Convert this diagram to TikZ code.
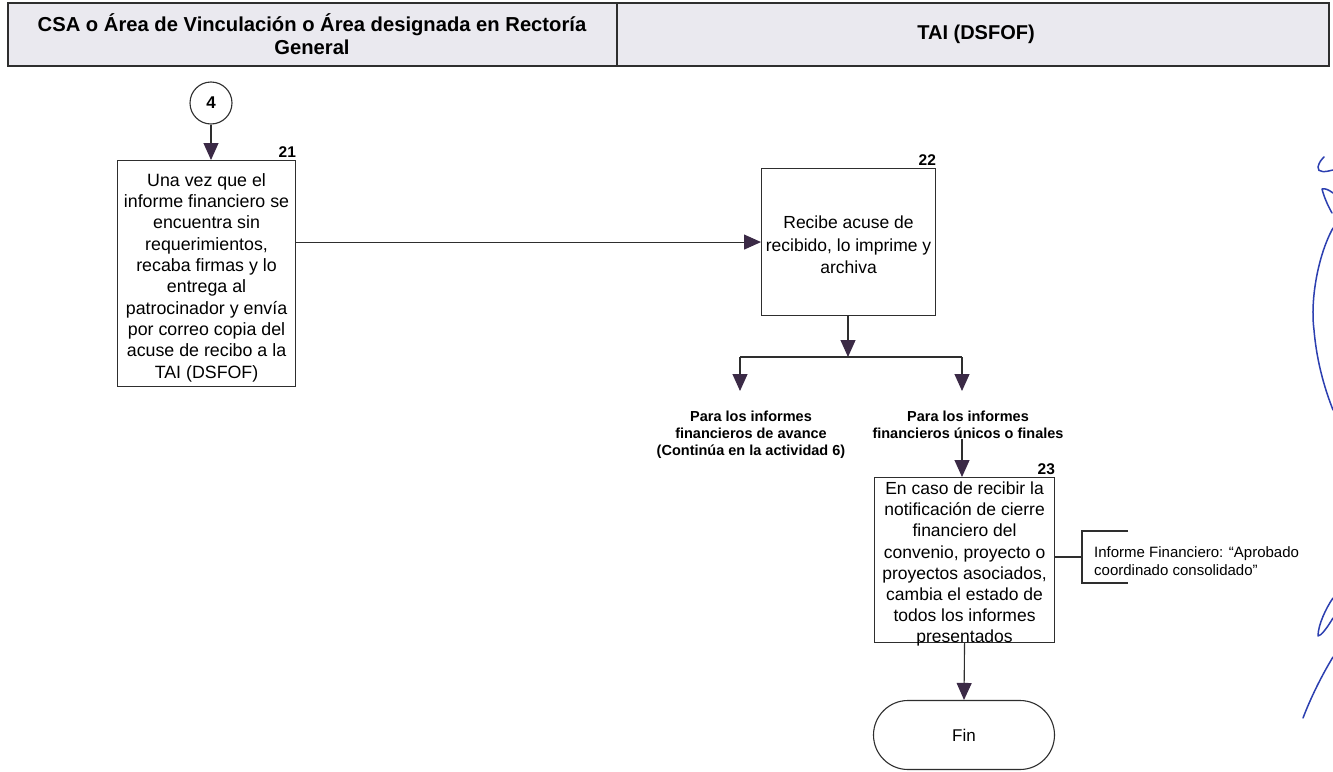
\documentclass[tikz,border=0pt]{standalone}
\usepackage{fontspec}
\setmainfont{Liberation Sans}
\usetikzlibrary{arrows.meta,shapes.misc}

\definecolor{linec}{HTML}{2E2E2E}
\definecolor{tipc}{HTML}{3B2A46}
\definecolor{headfill}{HTML}{EAE9EF}
\definecolor{inkblue}{HTML}{2C3FB0}

\tikzset{
  box/.style={draw=linec, line width=1.1pt, anchor=north west, inner sep=0pt},
  boxtext/.style={align=center, inner sep=0pt, text=black},
  num/.style={anchor=south east, inner sep=0pt, font=\fontsize{15.5}{15.5}\selectfont\bfseries},
  flow/.style={draw=linec, line width=1.1pt,
               -{Triangle[length=17pt,width=15pt,fill=tipc,color=tipc]}},
  plain/.style={draw=linec, line width=1.1pt},
  boldlbl/.style={align=center, inner sep=0pt, font=\fontsize{14.5}{17}\selectfont\bfseries},
  header/.style={draw=linec, line width=1.8pt, fill=headfill},
  ink/.style={draw=inkblue, line width=1.5pt, line cap=round, line join=round}
}

\begin{document}
\begin{tikzpicture}[x=1pt,y=-1pt]
\useasboundingbox (0,0) rectangle (1333,771);
\fill[white] (0,0) rectangle (1333,771);

% lane headers
\path[header] (8,3) rectangle (1329,66);
\draw[linec, line width=1.3pt] (617,3) -- (617,66);
\node[align=center, font=\fontsize{20.2}{22.5}\selectfont\bfseries] (h1) at (312,34)
  {CSA o Área de Vinculación o Área designada en Rectoría\\General};
\node[font=\fontsize{20}{22.5}\selectfont\bfseries] (h2) at (976,34) {TAI (DSFOF)};

% connector 4
\node[circle, draw=linec, line width=1.1pt, minimum size=42pt, inner sep=0pt,
      font=\fontsize{17}{17}\selectfont\bfseries] (c4) at (211,103) {4};

% activity 21
\node[box, minimum width=178pt, minimum height=226pt] (b21) at (117,160) {};
\node[boxtext, font=\fontsize{17.8}{21.3}\selectfont] (b21t) at ([yshift=-4pt]b21.center)
  {Una vez que el\\informe financiero se\\encuentra sin\\requerimientos,\\recaba firmas y lo\\entrega al\\patrocinador y envía\\por correo copia del\\acuse de recibo a la\\TAI (DSFOF)};
\node[num] (n21) at ([yshift=2pt]b21.north east) {21};

% activity 22
\node[box, minimum width=174pt, minimum height=147pt] (b22) at (761,168) {};
\node[boxtext, font=\fontsize{17.5}{22.5}\selectfont] (b22t) at ([yshift=-3pt]b22.center)
  {Recibe acuse de\\recibido, lo imprime y\\archiva};
\node[num] (n22) at ([yshift=2pt]b22.north east) {22};

% split below 22
\coordinate (split) at (848,357);
\coordinate (sl) at (740,357);
\coordinate (sr) at (962,357);
\coordinate (al) at (740,391);
\coordinate (ar) at (962,391);

\node[boldlbl, anchor=north] (t1) at (751,411)
  {Para los informes\\financieros de avance\\(Continúa en la actividad 6)};
\node[boldlbl, anchor=north] (t2) at (968,411)
  {Para los informes\\financieros únicos o finales};

% activity 23
\node[box, minimum width=180pt, minimum height=165pt] (b23) at (874,477) {};
\node[boxtext, font=\fontsize{17.5}{21.1}\selectfont] (b23t) at ([yshift=-4pt]b23.center)
  {En caso de recibir la\\notificación de cierre\\financiero del\\convenio, proyecto o\\proyectos asociados,\\cambia el estado de\\todos los informes\\presentados};
\node[num] (n23) at ([yshift=2pt]b23.north east) {23};

% annotation
\coordinate (brk) at (1082,557);
\coordinate (brt) at (1128,531);
\coordinate (brb) at (1128,583);
\node[anchor=west, align=left, inner sep=0pt, font=\fontsize{15}{18}\selectfont] (note) at (1094,561)
  {Informe Financiero: “Aprobado\\coordinado consolidado”};

% terminator
\node[rounded rectangle, draw=linec, line width=1.1pt, minimum width=181pt,
      minimum height=69pt, inner sep=0pt, font=\fontsize{17}{17}\selectfont] (fin) at (964,735) {Fin};

% connectors
\draw[flow] (c4.south) -- (c4.south |- b21.north);
\draw[flow] (b22.west -| b21.east) -- (b22.west);
\draw[flow] (b22.south -| split) -- (split);
\draw[plain] (sl) -- (sr);
\draw[flow] (sl) -- (al);
\draw[flow] (sr) -- (ar);
\draw[flow] (t2.south -| sr) -- (sr |- b23.north);
\draw[plain] (b23.east |- brk) -- (brk);
\draw[plain] (brt) -- (brt -| brk) -- (brb -| brk) -- (brb);
\draw[flow] (b23.south) -- (fin.north);

% signature strokes in the margin
\draw[ink] (1333,170) .. controls (1326,172) and (1317,173) .. (1318,167)
           .. controls (1319,162) and (1322,159) .. (1324,157);
\draw[ink] (1333,193) .. controls (1329,190) and (1325,188) .. (1322,189)
           .. controls (1324,197) and (1328,206) .. (1332,213);
\draw[ink] (1333,228) .. controls (1318,255) and (1310,300) .. (1314,330)
           .. controls (1317,365) and (1326,392) .. (1333,410);
\draw[ink] (1333,598) .. controls (1326,608) and (1318,625) .. (1318,636)
           .. controls (1321,636) and (1327,628) .. (1333,618);
\draw[ink] (1333,657) .. controls (1322,675) and (1311,697) .. (1303,718);
\end{tikzpicture}
\end{document}
